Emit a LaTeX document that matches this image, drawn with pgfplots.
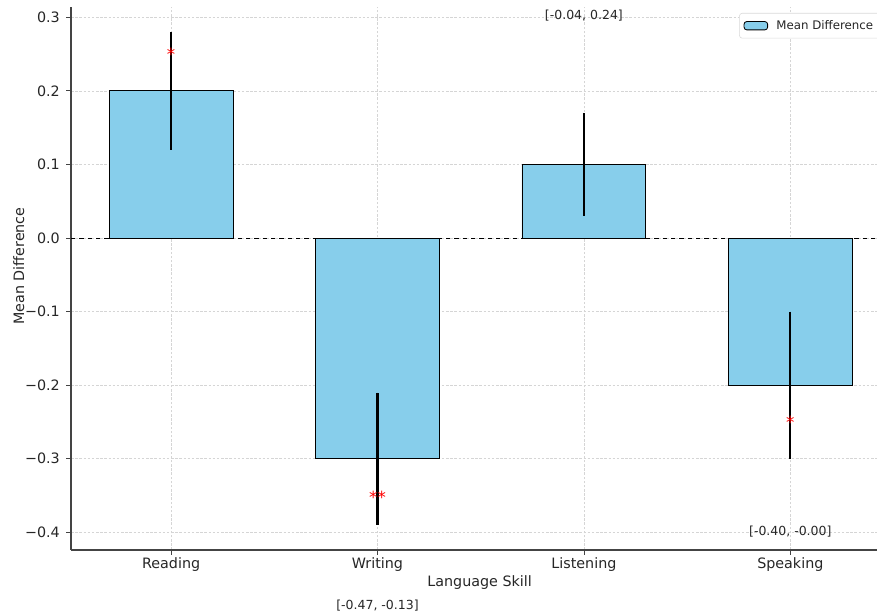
\documentclass[border=0pt]{standalone}
\usepackage{pgfplots}
\pgfplotsset{compat=1.18}
\usepackage{fontspec}
\setmainfont{DejaVu Sans}
\definecolor{skyblue}{HTML}{87CEEB}
\definecolor{spine}{HTML}{444444}
\definecolor{gridc}{HTML}{D5D5D5}
\definecolor{txt}{HTML}{262626}
\begin{document}
\begin{tikzpicture}
\begin{axis}[
  at={(0,0)}, anchor=south west,
  scale only axis,
  width=580.32pt, height=390.96pt,
  xmin=-0.485, xmax=3.42,
  ymin=-0.424, ymax=0.314,
  axis lines*=left,
  axis line style={spine, line width=0.8pt},
  xtick={0,1,2,3},
  xticklabels={Reading,Writing,Listening,Speaking},
  ytick={-0.4,-0.3,-0.2,-0.1,0,0.1,0.2,0.3},
  yticklabels={−0.4,−0.3,−0.2,−0.1,0.0,0.1,0.2,0.3},
  tick style={spine, line width=0.6pt},
  tick align=outside,
  major tick length=3.5pt,
  ticklabel style={font=\fontsize{10.3}{12}\selectfont, text=txt},
  xticklabel style={yshift=1.5pt},
  yticklabel style={xshift=-1pt},
  grid=major,
  grid style={gridc, dash pattern=on 1.8pt off 1.2pt, line width=0.45pt},
  xlabel={Language Skill},
  ylabel={Mean Difference},
  label style={font=\fontsize{10.3}{12}\selectfont, text=txt},
  xlabel style={at={(axis description cs:0.507,0)}, anchor=north, yshift=-15pt},
  ylabel style={at={(axis description cs:0,0.523)}, anchor=south, yshift=30pt},
  legend style={at={(axis description cs:0.829,0.989)}, anchor=north west,
    draw=gray!30, rounded corners=2pt, fill=white,
    font=\fontsize{8.5}{10}\selectfont, text=txt,
    inner xsep=3pt, inner ysep=3pt},
  legend cell align=left,
  legend image code/.code={\draw[fill=skyblue, draw=black, line width=0.6pt] (0pt,-3pt) rectangle (17pt,3pt); \path (21pt,0pt);},
  clip=false,
]
\addplot[ybar, bar width=0.6, fill=skyblue, draw=black, line width=0.6pt,
  error bars/.cd, y dir=both, y explicit, error mark=none,
  error bar style={black, line width=1.5pt}]
  coordinates {
  (0,0.2) +- (0,0.08)
  (1,-0.3) +- (0,0.09)
  (2,0.1) +- (0,0.07)
  (3,-0.2) +- (0,0.10)
};
\addlegendentry{Mean Difference}
\addplot[black, dashed, line width=0.7pt, forget plot] coordinates {(-0.485,0) (3.42,0)};
\node[red, font=\fontsize{12}{12}\selectfont] at (axis cs:0,0.250) {*};
\node[red, font=\fontsize{12}{12}\selectfont] at (axis cs:1,-0.352) {**};
\node[red, font=\fontsize{12}{12}\selectfont] at (axis cs:3,-0.251) {*};
\node[txt, font=\fontsize{9}{10}\selectfont] at (axis cs:2,0.302) {[-0.04, 0.24]};
\node[txt, font=\fontsize{9}{10}\selectfont] at (axis cs:1,-0.500) {[-0.47, -0.13]};
\node[txt, font=\fontsize{9}{10}\selectfont] at (axis cs:3,-0.399) {[-0.40, -0.00]};
\end{axis}
\pgfresetboundingbox
\path[use as bounding box] (-51.12pt,-47.52pt) rectangle (580.32pt,396pt);
\end{tikzpicture}
\end{document}
